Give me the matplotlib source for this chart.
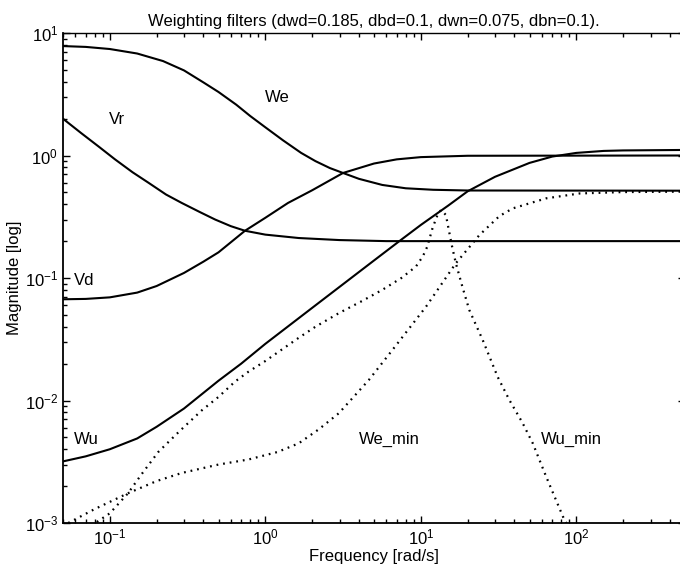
import matplotlib
matplotlib.use("Agg")
import matplotlib.pyplot as plt
from matplotlib.ticker import LogLocator, NullFormatter

plt.rcParams["font.family"] = ["Liberation Sans", "DejaVu Sans"]
plt.rcParams["mathtext.default"] = "regular"

# ---- data (frequency rad/s, magnitude) ----
we_w = [0.0487, 0.07, 0.1, 0.15, 0.22, 0.3, 0.4, 0.5, 0.65, 0.8, 1.0, 1.3, 1.7, 2.1, 2.6,
        3.16, 4.0, 5.65, 8.0, 12, 20, 500]
we_m = [7.83, 7.7, 7.4, 6.8, 5.9, 4.95, 3.95, 3.3, 2.6, 2.1, 1.7, 1.33, 1.05, 0.9, 0.79,
        0.72, 0.645, 0.575, 0.54, 0.525, 0.518, 0.516]

vr_w = [0.0487, 0.0656, 0.085, 0.108, 0.14, 0.177, 0.23, 0.29, 0.38, 0.476, 0.6, 0.74,
        1.0, 1.64, 3.0, 6.0, 500]
vr_m = [2.05, 1.52, 1.18, 0.93, 0.73, 0.6, 0.48, 0.41, 0.345, 0.3, 0.265, 0.243,
        0.226, 0.212, 0.204, 0.2, 0.2]

vd_w = [0.0487, 0.07, 0.1, 0.15, 0.2, 0.3, 0.4, 0.5, 0.74, 1.0, 1.4, 2.0, 3.16, 5.0,
        7.0, 10, 20, 500]
vd_m = [0.067, 0.0675, 0.0695, 0.076, 0.086, 0.11, 0.136, 0.162, 0.243, 0.31, 0.41,
        0.52, 0.72, 0.86, 0.93, 0.97, 0.995, 1.0]

wu_w = [0.0487, 0.07, 0.1, 0.15, 0.2, 0.3, 0.5, 0.7, 1.0, 2.0, 5.0, 7.43, 10, 15, 20,
        30, 50, 70, 100, 150, 200, 500]
wu_m = [0.00316, 0.0035, 0.004, 0.0049, 0.0061, 0.0086, 0.0145, 0.02, 0.029, 0.057,
        0.139, 0.204, 0.271, 0.39, 0.51, 0.67, 0.87, 0.98, 1.05, 1.09, 1.1, 1.11]

wemin_w = [0.054, 0.08, 0.131, 0.2, 0.29, 0.5, 0.78, 1.2, 1.64, 2.2, 2.97, 4.63, 6.56,
           10.8, 16.8, 23.8, 32, 39, 64, 105, 200, 500]
wemin_m = [0.001, 0.0013, 0.00175, 0.0022, 0.00256, 0.003, 0.0033, 0.0038, 0.00447,
           0.0058, 0.00787, 0.0147, 0.0258, 0.0583, 0.132, 0.224, 0.32, 0.37, 0.447,
           0.49, 0.503, 0.507]

wumin_w = [0.076, 0.1, 0.131, 0.16, 0.205, 0.28, 0.39, 0.5, 0.64, 0.78, 1.0, 1.64, 2.1,
           3.0, 4.2, 5.65, 7.5, 9.3, 10.3, 11.0, 11.9, 12.8, 13.5, 14.5, 15.2, 15.9,
           16.8, 18.5, 20.5, 25, 31.2, 37.1, 45, 52.5, 64, 82, 100]
wumin_m = [0.00095, 0.0012, 0.00175, 0.0025, 0.0038, 0.0056, 0.0083, 0.0107, 0.0143,
           0.0172, 0.021, 0.0325, 0.04, 0.052, 0.065, 0.08, 0.1, 0.124, 0.15, 0.18,
           0.256, 0.327, 0.359, 0.327, 0.24, 0.18, 0.132, 0.085, 0.0548, 0.0312,
           0.0156, 0.0101, 0.0066, 0.00447, 0.00239, 0.00113, 0.0007]

labels = ["We", "Vr", "Vd", "Wu", "We_min", "Wu_min"]
label_w = [1.0, 0.0986, 0.0588, 0.0588, 4.0, 59.4]
label_m = [2.95, 1.98, 0.096, 0.0048, 0.0048, 0.0048]

fig = plt.figure(figsize=(6.8, 5.77), dpi=100)
ax = fig.add_axes([63 / 680, 54 / 577, 622 / 680, 490 / 577])

for w, m in [(we_w, we_m), (vr_w, vr_m), (vd_w, vd_m), (wu_w, wu_m)]:
    ax.loglog(w, m, color="black", lw=1.5, solid_joinstyle="round")
for w, m in [(wemin_w, wemin_m), (wumin_w, wumin_m)]:
    ax.loglog(w, m, color="black", lw=1.6, linestyle=(0, (0.8, 2.2)))

for t, x, y in zip(labels, label_w, label_m):
    ax.text(x, y, t, fontsize=12, va="center", ha="left")

ax.set_xlim(0.05, 500)
ax.set_ylim(1e-3, 10)
ax.xaxis.set_major_locator(LogLocator(base=10, numticks=10))
ax.yaxis.set_major_locator(LogLocator(base=10, numticks=10))
ax.xaxis.set_minor_locator(LogLocator(base=10, subs=range(2, 10), numticks=20))
ax.yaxis.set_minor_locator(LogLocator(base=10, subs=range(2, 10), numticks=20))
ax.xaxis.set_minor_formatter(NullFormatter())
ax.yaxis.set_minor_formatter(NullFormatter())
ax.tick_params(which="both", direction="in", top=True, right=True, labelsize=12)
ax.tick_params(which="major", length=5, width=1)
ax.tick_params(which="minor", length=3, width=1)
for s in ax.spines.values():
    s.set_linewidth(1.3)
ax.spines["top"].set_linewidth(1.0)

ax.set_title("Weighting filters (dwd=0.185, dbd=0.1, dwn=0.075, dbn=0.1).", fontsize=12, pad=5)
ax.set_xlabel("Frequency [rad/s]", fontsize=12, labelpad=1)
ax.set_ylabel("Magnitude [log]", fontsize=12, labelpad=2)

fig.savefig("out.png", dpi=100)
